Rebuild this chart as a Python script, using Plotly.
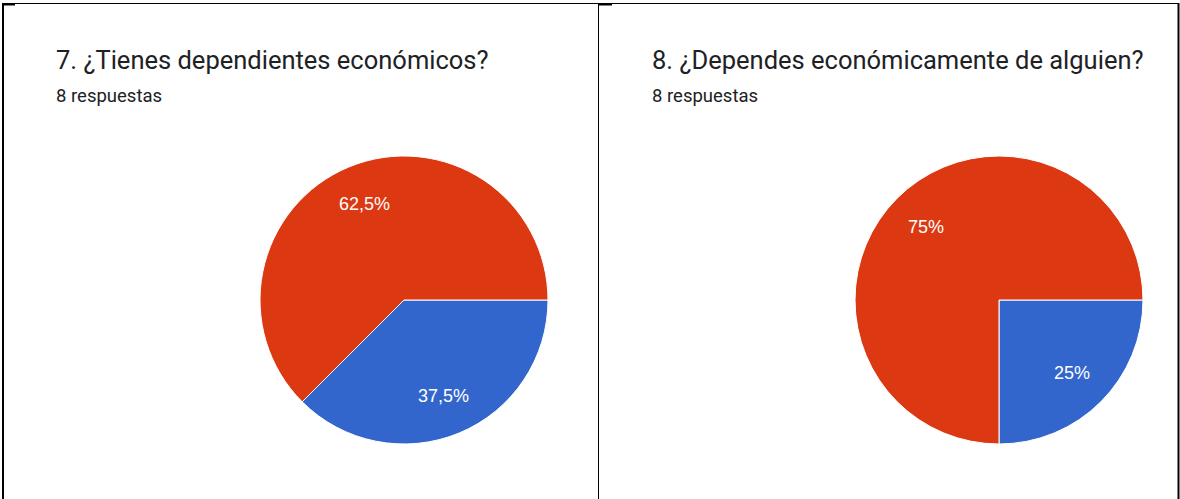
import math
import plotly.graph_objects as go

W, H = 1180, 499

# Survey questions, answer options and answer counts
titles = ["7. ¿Tienes dependientes económicos?", "8. ¿Dependes económicamente de alguien?"]
subtitles = ["8 respuestas", "8 respuestas"]
options = ["Sí", "No"]
counts_q7 = [3, 5]
counts_q8 = [2, 6]

colors = ["#3366CC", "#DC3912"]
text_dark = "#202124"

# Layout in pixels: pie centres, radius, text origin of each card
pie_centers = [(404, 300), (999, 300)]
pie_radius = 144
label_radius = 0.72 * pie_radius
text_x = [55, 651]


def px_x(x):
    return x / W


def px_y(y):
    return 1 - y / H


def pct_text(p):
    return f"{p:g}".replace(".", ",") + "%"


fig = go.Figure()
annotations = []

for counts, (cx, cy) in zip([counts_q7, counts_q8], pie_centers):
    fig.add_trace(go.Pie(
        labels=options,
        values=counts,
        sort=False,
        direction="clockwise",
        rotation=90,
        marker=dict(colors=colors, line=dict(color="white", width=1)),
        textinfo="none",
        hoverinfo="skip",
        showlegend=False,
        domain=dict(
            x=[px_x(cx - pie_radius), px_x(cx + pie_radius)],
            y=[px_y(cy + pie_radius), px_y(cy - pie_radius)],
        ),
    ))
    # percentage labels placed at the middle angle of each slice
    total = sum(counts)
    start = 0.0
    for c in counts:
        frac = c / total
        mid = (start + frac / 2) * 2 * math.pi  # clockwise from 3 o'clock
        lx = cx + label_radius * math.cos(mid)
        ly = cy + label_radius * math.sin(mid)
        annotations.append(dict(
            text=pct_text(round(frac * 100, 1)), x=px_x(lx), y=px_y(ly),
            xref="paper", yref="paper", xanchor="center", yanchor="middle",
            showarrow=False,
            font=dict(family="Liberation Sans, Arial", size=18, color="white"),
        ))
        start += frac

for title, sub, tx in zip(titles, subtitles, text_x):
    annotations.append(dict(
        text=title, x=px_x(tx - 1), y=px_y(60), xref="paper", yref="paper",
        xanchor="left", yanchor="middle", showarrow=False,
        font=dict(family="Roboto", size=25.5, color=text_dark),
    ))
    annotations.append(dict(
        text=sub, x=px_x(tx - 1), y=px_y(96), xref="paper", yref="paper",
        xanchor="left", yanchor="middle", showarrow=False,
        font=dict(family="Roboto", size=18.5, color=text_dark),
    ))

# Card borders
line_black = dict(color="black", width=1)
shapes = [
    dict(type="line", xref="paper", yref="paper", x0=px_x(2), x1=px_x(1179),
         y0=px_y(3.5), y1=px_y(3.5), line=line_black),
    dict(type="line", xref="paper", yref="paper", x0=px_x(3), x1=px_x(3),
         y0=px_y(3), y1=px_y(499), line=dict(color="black", width=2)),
    dict(type="line", xref="paper", yref="paper", x0=px_x(598.5), x1=px_x(598.5),
         y0=px_y(3), y1=px_y(499), line=line_black),
    dict(type="line", xref="paper", yref="paper", x0=px_x(1178.5), x1=px_x(1178.5),
         y0=px_y(3), y1=px_y(499), line=dict(color="black", width=2)),
    dict(type="line", xref="paper", yref="paper", x0=px_x(2), x1=px_x(15),
         y0=px_y(4.5), y1=px_y(4.5), line=dict(color="black", width=2)),
    dict(type="line", xref="paper", yref="paper", x0=px_x(598), x1=px_x(612),
         y0=px_y(4.5), y1=px_y(4.5), line=dict(color="black", width=2)),
]

fig.update_layout(
    width=W, height=H,
    margin=dict(l=0, r=0, t=0, b=0),
    paper_bgcolor="white",
    plot_bgcolor="white",
    annotations=annotations,
    shapes=shapes,
)

fig.write_html("out.html")
